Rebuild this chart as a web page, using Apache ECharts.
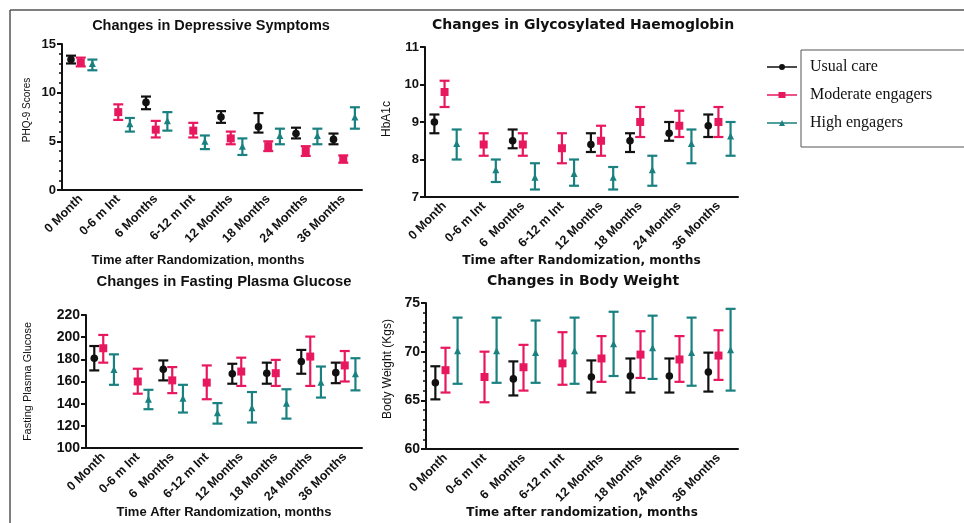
<!DOCTYPE html>
<html>
<head>
<meta charset="utf-8">
<script src="https://cdn.jsdelivr.net/npm/echarts@6/dist/echarts.min.js"></script>
<style>
  html, body { margin: 0; padding: 0; background: #fff; }
  #chart { width: 964px; height: 523px; }
</style>
</head>
<body>
<div id="chart"></div>
<script>
// categories (panel 1 uses single space in "6 Months", others a double one)
const catsPhq = ['0 Month', '0-6 m Int', '6 Months', '6-12 m Int', '12 Months', '18 Months', '24 Months', '36 Months'];
const catsOther = ['0 Month', '0-6 m Int', '6  Months', '6-12 m Int', '12 Months', '18 Months', '24 Months', '36 Months'];

// each entry: [mean, lower, upper]; null = not measured
const phqUsual = [[13.4, 13.0, 13.8], null, [9.0, 8.3, 9.6], null, [7.5, 6.9, 8.1], [6.5, 5.9, 7.9], [5.8, 5.3, 6.4], [5.2, 4.7, 5.8]];
const phqModerate = [[13.1, 12.7, 13.6], [8.0, 7.2, 8.8], [6.2, 5.4, 7.1], [6.1, 5.4, 6.9], [5.3, 4.7, 6.0], [4.5, 4.0, 5.0], [4.0, 3.5, 4.5], [3.2, 2.8, 3.55]];
const phqHigh = [[12.9, 12.3, 13.4], [6.7, 6.0, 7.4], [7.0, 6.1, 8.0], [4.9, 4.2, 5.6], [4.4, 3.6, 5.3], [5.5, 4.7, 6.3], [5.5, 4.7, 6.3], [7.4, 6.3, 8.5]];

const hbaUsual = [[9.0, 8.7, 9.2], null, [8.5, 8.3, 8.8], null, [8.4, 8.2, 8.7], [8.5, 8.2, 8.7], [8.7, 8.5, 9.0], [8.9, 8.6, 9.2]];
const hbaModerate = [[9.8, 9.4, 10.1], [8.4, 8.1, 8.7], [8.4, 8.1, 8.7], [8.3, 7.9, 8.7], [8.5, 8.1, 8.9], [9.0, 8.6, 9.4], [8.9, 8.6, 9.3], [9.0, 8.6, 9.4]];
const hbaHigh = [[8.4, 8.0, 8.8], [7.7, 7.4, 8.0], [7.5, 7.2, 7.9], [7.6, 7.3, 8.0], [7.5, 7.2, 7.8], [7.7, 7.3, 8.1], [8.4, 7.9, 8.8], [8.6, 8.1, 9.0]];

const fpgUsual = [[181, 170, 192], null, [171, 161, 179], null, [167, 158, 176], [167.5, 158, 177], [178, 167, 188.5], [168, 158.5, 177]];
const fpgModerate = [[190, 177, 202], [160, 149, 171.5], [161, 149.5, 173], [159, 144, 174.5], [169, 156, 181.5], [167.5, 156, 179.5], [182.5, 156, 200.5], [174.5, 160, 187.5]];
const fpgHigh = [[170, 157, 184.5], [143, 135, 152.5], [144, 132, 157], [131, 122, 140.5], [135.5, 123, 150.5], [139.5, 126.5, 153], [158.5, 145.5, 173.5], [166, 152, 181]];

const bwUsual = [[66.8, 65.1, 68.5], null, [67.2, 65.5, 69.0], null, [67.4, 65.8, 69.1], [67.5, 65.8, 69.3], [67.5, 65.8, 69.3], [67.9, 65.9, 69.9]];
const bwModerate = [[68.1, 65.8, 70.4], [67.4, 64.8, 70.0], [68.4, 66.0, 70.7], [68.8, 66.6, 72.0], [69.3, 66.9, 71.6], [69.7, 67.3, 72.1], [69.2, 66.9, 71.6], [69.6, 67.1, 72.2]];
const bwHigh = [[70.0, 66.7, 73.5], [70.0, 66.8, 73.5], [69.8, 66.8, 73.2], [70.0, 66.7, 73.5], [70.7, 67.5, 74.1], [70.3, 67.2, 73.7], [69.8, 66.5, 73.5], [70.1, 66.0, 74.4]];

const groupNames = ['Usual care', 'Moderate engagers', 'High engagers'];
const groupColors = ['#111111', '#e8185f', '#1a8080'];
const groupShapes = ['circle', 'square', 'triangle'];
const groupOffsets = [-0.26, 0, 0.31];

const sans = 'Liberation Sans, Arial, sans-serif';
const wide = 'DejaVu Sans, Verdana, sans-serif';

const panels = [
  { title: 'Changes in Depressive Symptoms', yName: 'PHQ-9 Scores', xName: 'Time after Randomization, months',
    cats: catsPhq, groups: [phqUsual, phqModerate, phqHigh], min: 0, max: 15, interval: 5, minor: true,
    grid: { left: 62, top: 44, width: 300, height: 146 }, titleX: 206, titleY: 13, titleFont: sans, titleSize: 14.5,
    yGap: 30, yPad: [0, 0, 0, 14], yNameSize: 10, xGap: 64, xPad: [0, 28, 0, 0], xNameFont: sans, xNameSize: 13, labelSize: 13 },
  { title: 'Changes in Glycosylated Haemoglobin', yName: 'HbA1c', xName: 'Time after Randomization, months',
    cats: catsOther, groups: [hbaUsual, hbaModerate, hbaHigh], min: 7, max: 11, interval: 1, minor: false,
    grid: { left: 425, top: 47, width: 313, height: 150 }, titleX: 578, titleY: 13, titleFont: wide, titleSize: 14,
    yGap: 32, yPad: [0, 0, 0, 6], yNameSize: 12, xGap: 54, xPad: 0, xNameFont: wide, xNameSize: 12.2, labelSize: 13 },
  { title: 'Changes in Fasting Plasma Glucose', yName: 'Fasting Plasma Glucose', xName: 'Time After Randomization, months',
    cats: catsOther, groups: [fpgUsual, fpgModerate, fpgHigh], min: 100, max: 220, interval: 20, minor: false,
    grid: { left: 86, top: 315, width: 276, height: 133 }, titleX: 219, titleY: 269, titleFont: sans, titleSize: 14.8,
    yGap: 53, yPad: 0, yNameSize: 11, xGap: 52, xPad: 0, xNameFont: sans, xNameSize: 13, labelSize: 14 },
  { title: 'Changes in Body Weight', yName: 'Body Weight (Kgs)', xName: 'Time after randomization, months',
    cats: catsOther, groups: [bwUsual, bwModerate, bwHigh], min: 60, max: 75, interval: 5, minor: true,
    grid: { left: 426, top: 303, width: 312, height: 146 }, titleX: 578, titleY: 269, titleFont: wide, titleSize: 14,
    yGap: 32, yPad: [0, 0, 0, 14], yNameSize: 12, xGap: 52, xPad: 0, xNameFont: wide, xNameSize: 12, labelSize: 14 }
];

function errorBarRenderer(offsetFrac, shape) {
  return function (params, api) {
    const idx = api.value(0);
    const band = api.size([1, 0])[0];
    const pMean = api.coord([idx, api.value(1)]);
    const x = pMean[0] + band * offsetFrac;
    const yLo = api.coord([idx, api.value(2)])[1];
    const yHi = api.coord([idx, api.value(3)])[1];
    const color = api.visual('color');
    const lineStyle = { stroke: color, lineWidth: 2.2 };
    const cap = 5;
    const children = [
      { type: 'line', shape: { x1: x, y1: yHi, x2: x, y2: yLo }, style: lineStyle },
      { type: 'line', shape: { x1: x - cap, y1: yHi, x2: x + cap, y2: yHi }, style: lineStyle },
      { type: 'line', shape: { x1: x - cap, y1: yLo, x2: x + cap, y2: yLo }, style: lineStyle }
    ];
    const y = pMean[1];
    if (shape === 'circle') {
      children.push({ type: 'circle', shape: { cx: x, cy: y, r: 3.8 }, style: { fill: color } });
    } else if (shape === 'square') {
      children.push({ type: 'rect', shape: { x: x - 4, y: y - 4, width: 8, height: 8 }, style: { fill: color } });
    } else {
      children.push({ type: 'polygon', shape: { points: [[x, y - 4.5], [x + 3.5, y + 2.5], [x - 3.5, y + 2.5]] }, style: { fill: color } });
    }
    return { type: 'group', children: children };
  };
}

const titles = [];
const grids = [];
const xAxes = [];
const yAxes = [];
const series = [];

panels.forEach(function (p, pi) {
  titles.push({
    text: p.title, left: p.titleX, top: p.titleY, textAlign: 'center',
    textStyle: { fontFamily: p.titleFont, fontWeight: 'bold', fontSize: p.titleSize, color: '#111' }
  });
  grids.push(p.grid);
  xAxes.push({
    type: 'category', gridIndex: pi, data: p.cats,
    name: p.xName, nameLocation: 'middle', nameGap: p.xGap,
    nameTextStyle: { fontFamily: p.xNameFont, fontWeight: 'bold', fontSize: p.xNameSize, color: '#111', padding: p.xPad },
    axisLine: { lineStyle: { color: '#111', width: 2 } },
    axisTick: { alignWithLabel: true, length: 5, lineStyle: { color: '#111', width: 2 } },
    axisLabel: { rotate: 45, margin: 7, fontFamily: sans, fontWeight: 'bold', fontSize: 12.5, color: '#111' },
    splitLine: { show: false }
  });
  yAxes.push({
    type: 'value', gridIndex: pi, min: p.min, max: p.max, interval: p.interval,
    name: p.yName, nameLocation: 'middle', nameGap: p.yGap,
    nameTextStyle: { fontFamily: sans, fontSize: p.yNameSize, color: '#111', padding: p.yPad },
    axisLine: { show: true, lineStyle: { color: '#111', width: 2 } },
    axisTick: { show: true, length: 5, lineStyle: { color: '#111', width: 2 } },
    minorTick: { show: p.minor, splitNumber: 5, length: 3, lineStyle: { color: '#111', width: 1.5 } },
    axisLabel: { margin: 6, fontFamily: sans, fontWeight: 'bold', fontSize: p.labelSize, color: '#111' },
    splitLine: { show: false }
  });
  p.groups.forEach(function (g, gi) {
    const rows = [];
    g.forEach(function (t, i) {
      if (t) rows.push([i, t[0], t[1], t[2]]);
    });
    series.push({
      type: 'custom', name: groupNames[gi], xAxisIndex: pi, yAxisIndex: pi,
      itemStyle: { color: groupColors[gi] },
      renderItem: errorBarRenderer(groupOffsets[gi], groupShapes[gi]),
      encode: { x: 0, y: [1, 2, 3] },
      data: rows
    });
  });
});

const legendIcons = [
  'path://M0 3.3L30 3.3L30 4.7L0 4.7Z M12 4A3 3 0 1 1 18 4A3 3 0 1 1 12 4Z',
  'path://M0 3.2L30 3.2L30 4.8L0 4.8Z M11.5 1L18.5 1L18.5 7L11.5 7Z',
  'path://M0 3.3L30 3.3L30 4.7L0 4.7Z M15 1L18 7L12 7Z'
];

const chart = echarts.init(document.getElementById('chart'));
chart.setOption({
  backgroundColor: '#fff',
  animation: false,
  title: titles,
  grid: grids,
  xAxis: xAxes,
  yAxis: yAxes,
  legend: {
    orient: 'vertical', left: 767, top: 58, padding: 0, itemWidth: 30, itemHeight: 6, itemGap: 10,
    data: groupNames.map(function (n, i) { return { name: n, icon: legendIcons[i] }; }),
    textStyle: { fontFamily: 'Liberation Serif, Times New Roman, serif', fontSize: 16, color: '#111', padding: [0, 0, 0, 8], lineHeight: 18 }
  },
  graphic: [
    { type: 'line', shape: { x1: 10, y1: 10, x2: 964, y2: 10 }, style: { stroke: '#555', lineWidth: 1.5 } },
    { type: 'line', shape: { x1: 10, y1: 10, x2: 10, y2: 523 }, style: { stroke: '#555', lineWidth: 1.5 } },
    { type: 'rect', shape: { x: 801, y: 50, width: 200, height: 97 }, style: { fill: 'none', stroke: '#555', lineWidth: 1 } }
  ],
  series: series
});
</script>
</body>
</html>
